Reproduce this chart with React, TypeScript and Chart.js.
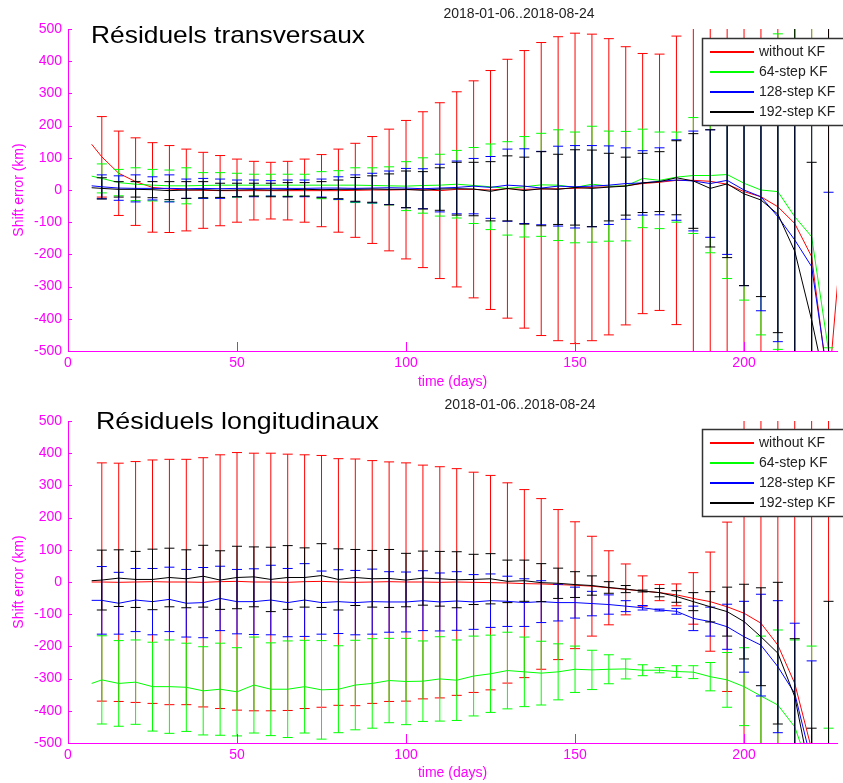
import React, { useEffect, useRef } from 'react';
import { Chart, registerables } from 'chart.js';

Chart.register(...registerables);

// ---------- data ----------
const days = [7, 10, 15, 20, 25, 30, 35, 40, 45, 50, 55, 60, 65, 70, 75, 80, 85, 90, 95, 100,
  105, 110, 115, 120, 125, 130, 135, 140, 145, 150, 155, 160, 165, 170, 175, 180,
  185, 190, 195, 200, 205, 210, 215, 220, 225, 228];

const seriesLabels = ['without KF', '64-step KF', '128-step KF', '192-step KF'];
const seriesColors = ['#ff0000', '#00ff00', '#0000ff', '#000000'];

const dateRange = '2018-01-06..2018-08-24';
const xMin = 0;
const xMax = 227.5;
const xStep = 50;
const yMin = -500;
const yMax = 500;
const yStep = 100;

// Résiduels transversaux (means at `days`, std at days 10..225)
const transRed = [142, 103, 52, 26, 8, 3, 0, -1, -2, -2, -2, -2, -2, -2, -2, -2, -1, 0, 0, 1,
  1, -2, 2, 2, 0, 4, 2, 3, 4, 5, 8, 10, 13, 20, 24, 30,
  30, 27, 18, -5, -21, -52, -104, -207, -620, -250];
const transRedSd = [125, 131, 136, 139, 135, 127, 118, 109, 98, 91, 88, 91, 98, 112, 129, 146, 166, 189, 215,
  242, 273, 303, 337, 371, 402, 431, 455, 472, 482, 476, 460, 432, 404, 398, 448,
  560, 600, 640, 680, 720, 760, 800, 850, 1150];

const transGreen = [43, 36, 23, 18, 15, 13, 13, 14, 15, 15, 15, 15, 15, 15, 15, 15, 15, 14, 13, 12,
  14, 15, 18, 14, 10, 5, 10, 16, 15, 8, 18, 12, 12, 36, 30, 40,
  45, 45, 48, 21, 0, -5, -83, -145, -500, -750];
const transGreenSd = [45, 41, 51, 49, 49, 56, 40, 39, 37, 34, 34, 34, 34, 42, 45, 54, 55, 59, 76,
  86, 96, 105, 118, 133, 145, 156, 160, 172, 172, 180, 171, 170, 153, 150, 140,
  180, 240, 323, 363, 450, 490, 600, 700, 10];

const transBlue = [13, 10, 6, 5, 5, 5, 4, 5, 4, 5, 5, 5, 5, 5, 6, 6, 5, 6, 7, 6,
  4, 6, 8, 12, 8, 15, 12, 6, 12, 10, 12, 15, 20, 22, 27, 31,
  28, 20, 30, 0, -21, -83, -155, -238, -600, -760];
const transBlueSd = [37, 38, 42, 36, 42, 30, 31, 30, 26, 26, 24, 26, 26, 28, 35, 42, 46, 52, 61,
  62, 74, 82, 86, 96, 112, 116, 114, 124, 128, 126, 122, 111, 100, 104, 125,
  155, 167, 230, 297, 354, 388, 450, 500, 593];

const transBlack = [7, 5, 2, 2, 1, -2, 0, 1, -1, 0, 1, 0, 1, 2, 1, 2, 2, 3, 2, 2,
  -1, 3, 4, 3, -4, 5, -2, 4, 2, 8, 5, 9, 12, 22, 26, 38,
  28, 5, 19, -12, -31, -75, -190, -404, -650, -800];
const transBlackSd = [33, 24, 24, 25, 28, 26, 25, 22, 21, 20, 21, 22, 21, 25, 29, 37, 41, 48, 57,
  58, 66, 82, 83, 92, 101, 104, 115, 109, 117, 119, 105, 90, 92, 93, 115,
  147, 182, 229, 285, 300, 368, 750, 490, 1200];

// Résiduels longitudinaux
const longRed = [0, 0, -1, 0, 1, 0, 0, -1, 1, 2, 0, 0, -1, 1, 2, 0, -1, 0, 1, 0,
  0, -1, 0, -1, -2, -3, -5, -6, -8, -10, -13, -18, -23, -28, -33, -40,
  -51, -61, -77, -97, -128, -196, -315, -520, -700, -800];
const longRedSd = [370, 370, 374, 378, 381, 381, 387, 394, 400, 400, 400, 398, 394, 391, 383, 383, 377, 372, 370,
  363, 359, 352, 342, 333, 311, 292, 265, 233, 197, 155, 115, 79, 47, 25, 34,
  80, 154, 263, 700, 750, 800, 900, 1100, 1300];

const longGreen = [-315, -304, -315, -311, -325, -325, -327, -338, -333, -341, -320, -333, -333, -325, -335, -333, -320, -315, -306, -309,
  -308, -301, -305, -292, -285, -275, -279, -283, -279, -271, -273, -271, -270, -274, -274, -278,
  -280, -294, -304, -325, -354, -382, -450, -600, -750, -850];
const longGreenSd = [137, 133, 131, 138, 145, 137, 137, 143, 137, 149, 144, 150, 144, 153, 135, 139, 139, 131, 134,
  125, 131, 125, 124, 120, 119, 108, 99, 87, 72, 61, 45, 31, 17, 8, 18,
  20, 44, 85, 121, 186, 233, 270, 401, 296];

const longBlue = [-57, -57, -66, -56, -61, -54, -66, -64, -51, -61, -61, -56, -64, -56, -64, -61, -64, -61, -62, -62,
  -58, -62, -59, -62, -58, -60, -64, -61, -64, -64, -67, -70, -75, -80, -87, -91,
  -113, -123, -139, -170, -196, -263, -346, -560, -750, -850];
const longBlueSd = [105, 96, 98, 103, 100, 105, 109, 100, 100, 102, 108, 106, 113, 98, 99, 100, 101, 94, 93,
  93, 90, 91, 85, 83, 78, 74, 65, 57, 48, 38, 30, 17, 7, 3, 9,
  38, 45, 70, 110, 158, 205, 218, 315, 200];

const longBlack = [4, 6, 12, 8, 8, 14, 10, 18, 6, 14, 16, 8, 14, 14, 20, 8, 14, 10, 11, 6,
  12, 10, 7, 8, 10, 2, 4, -2, -4, -8, -11, -17, -22, -28, -33, -45,
  -61, -77, -92, -123, -170, -221, -356, -620, -800, -900];
const longBlackSd = [93, 88, 87, 94, 91, 90, 96, 91, 97, 93, 100, 99, 92, 99, 95, 87, 88, 90, 83,
  84, 85, 87, 78, 78, 66, 64, 59, 47, 40, 30, 18, 11, 3, 13, 18,
  28, 47, 76, 116, 152, 220, 180, 166, 740];

// ---------- styling ----------
const MAGENTA = '#ff00ff';
const FONT = '"Liberation Sans", Arial, Helvetica, sans-serif';

type Panel = {
  title: string;
  titleX: number;
  titleY: number;
  titleW: number;
  dateX: number;
  dateY: number;
  legendTop: number;
  height: number;
  means: number[][];
  sds: number[][];
};

const panels: Panel[] = [
  {
    title: 'Résiduels transversaux', titleX: 91, titleY: 43, titleW: 274, dateX: 519, dateY: 18, legendTop: 38, height: 392,
    means: [transRed, transGreen, transBlue, transBlack],
    sds: [transRedSd, transGreenSd, transBlueSd, transBlackSd],
  },
  {
    title: 'Résiduels longitudinaux', titleX: 96, titleY: 37, titleW: 283, dateX: 520, dateY: 17, legendTop: 37, height: 391,
    means: [longRed, longGreen, longBlue, longBlack],
    sds: [longRedSd, longGreenSd, longBlueSd, longBlackSd],
  },
];

function makeDatasets(means: number[][], sds: number[][]) {
  const barDays = days.slice(1, days.length - 1);
  const out: any[] = [];
  means.forEach((m, k) => {
    const color = seriesColors[k];
    const order = means.length - k;
    out.push({
      label: seriesLabels[k],
      data: days.map((d, i) => ({ x: d, y: m[i] })),
      borderColor: color,
      backgroundColor: color,
      borderWidth: 1,
      pointRadius: 0,
      tension: 0,
      order,
      clip: 0,
      isLegend: true,
      legendColor: color,
    });
    const bars: any[] = [];
    barDays.forEach((d, j) => {
      const c = m[j + 1];
      const s = sds[k][j];
      bars.push({ x: d, y: c - s }, { x: d, y: c + s }, { x: d, y: null });
    });
    out.push({
      label: seriesLabels[k] + ' ±σ',
      data: bars,
      borderColor: color,
      backgroundColor: color,
      borderWidth: 1,
      pointStyle: 'line',
      pointRadius: 5,
      pointHoverRadius: 5,
      pointBorderColor: color,
      pointBorderWidth: 1,
      spanGaps: false,
      order,
      clip: 0,
    });
  });
  return out;
}

function annotPlugin(p: Panel) {
  return {
    id: 'annot',
    afterDraw(chart: any) {
      const { ctx, chartArea, scales } = chart;
      ctx.save();
      // inner tick marks
      ctx.strokeStyle = MAGENTA;
      ctx.lineWidth = 1;
      scales.y.ticks.forEach((t: any) => {
        const py = Math.round(scales.y.getPixelForValue(t.value)) + 0.5;
        ctx.beginPath();
        ctx.moveTo(chartArea.left, py);
        ctx.lineTo(chartArea.left + 4, py);
        ctx.stroke();
      });
      scales.x.ticks.forEach((t: any) => {
        if (t.value === xMin) return;
        const px = Math.round(scales.x.getPixelForValue(t.value)) + 0.5;
        ctx.beginPath();
        ctx.moveTo(px, chartArea.bottom);
        ctx.lineTo(px, chartArea.bottom - 9);
        ctx.stroke();
      });
      // big title (stretched horizontally to match the reference width)
      ctx.fillStyle = '#000';
      ctx.font = `24px ${FONT}`;
      ctx.textAlign = 'left';
      ctx.textBaseline = 'alphabetic';
      const tw = ctx.measureText(p.title).width;
      ctx.save();
      ctx.translate(p.titleX, p.titleY);
      ctx.scale(p.titleW / tw, 1);
      ctx.fillText(p.title, 0, 0);
      ctx.restore();
      // date range
      ctx.fillStyle = '#222';
      ctx.font = `14px ${FONT}`;
      ctx.textAlign = 'center';
      ctx.textBaseline = 'alphabetic';
      ctx.fillText(dateRange, p.dateX, p.dateY);
      // legend
      const lx = 702;
      const ly = p.legendTop;
      const lw = 150;
      const lh = 87;
      ctx.fillStyle = '#ffffff';
      ctx.fillRect(lx, ly, lw, lh);
      ctx.strokeStyle = '#333333';
      ctx.lineWidth = 1.5;
      ctx.strokeRect(lx + 0.5, ly + 0.5, lw, lh);
      const entries = chart.data.datasets.filter((d: any) => d.isLegend);
      ctx.font = `14px ${FONT}`;
      ctx.textAlign = 'left';
      ctx.textBaseline = 'middle';
      entries.forEach((d: any, i: number) => {
        const y = ly + 13 + i * 20;
        ctx.fillStyle = d.legendColor;
        ctx.fillRect(710, y, 44, 2);
        ctx.fillStyle = '#222';
        ctx.fillText(d.label, 759, y + 1);
      });
      ctx.restore();
    },
  };
}

function PanelChart({ p }: { p: Panel }) {
  const ref = useRef<HTMLCanvasElement | null>(null);
  useEffect(() => {
    if (!ref.current) return;
    const xH = p.height - 351;
    const chart = new Chart(ref.current, {
      type: 'line',
      data: { datasets: makeDatasets(p.means, p.sds) },
      options: {
        animation: false,
        responsive: false,
        maintainAspectRatio: false,
        devicePixelRatio: 1,
        events: [],
        layout: { padding: { top: 29, left: 0, right: 0, bottom: 0 } },
        plugins: {
          legend: { display: false },
          tooltip: { enabled: false },
          title: { display: false },
        },
        scales: {
          x: {
            type: 'linear',
            min: xMin,
            max: xMax,
            afterFit: (s: any) => { s.height = xH; },
            border: { display: true, color: MAGENTA, width: 1 },
            grid: { display: false, drawOnChartArea: false, drawTicks: false },
            ticks: {
              stepSize: xStep,
              includeBounds: false,
              color: MAGENTA,
              font: { family: FONT, size: 14 },
              padding: 4,
              maxRotation: 0,
              autoSkip: false,
            },
            title: {
              display: true,
              text: 'time (days)',
              color: MAGENTA,
              font: { family: FONT, size: 14 },
              padding: { top: 0, bottom: 1 },
            },
          },
          y: {
            type: 'linear',
            min: yMin,
            max: yMax,
            afterFit: (s: any) => { s.width = 68; },
            border: { display: true, color: MAGENTA, width: 1 },
            grid: { display: false, drawOnChartArea: false, drawTicks: false },
            ticks: {
              stepSize: yStep,
              color: MAGENTA,
              font: { family: FONT, size: 14 },
              padding: 6,
              autoSkip: false,
            },
            title: {
              display: true,
              text: 'Shift error (km)',
              color: MAGENTA,
              font: { family: FONT, size: 14 },
              padding: { top: 11, bottom: 0 },
            },
          },
        },
      } as any,
      plugins: [annotPlugin(p)],
    });
    return () => chart.destroy();
  }, [p]);
  return (
    <canvas
      ref={ref}
      width={843}
      height={p.height}
      style={{ display: 'block', width: 843, height: p.height }}
    />
  );
}

export default function App() {
  useEffect(() => {
    document.body.style.margin = '0';
    document.body.style.overflow = 'hidden';
    document.body.style.background = '#ffffff';
  }, []);
  return (
    <div style={{ width: 843, height: 783, background: '#fff' }}>
      {panels.map((p, i) => (
        <PanelChart key={i} p={p} />
      ))}
    </div>
  );
}
